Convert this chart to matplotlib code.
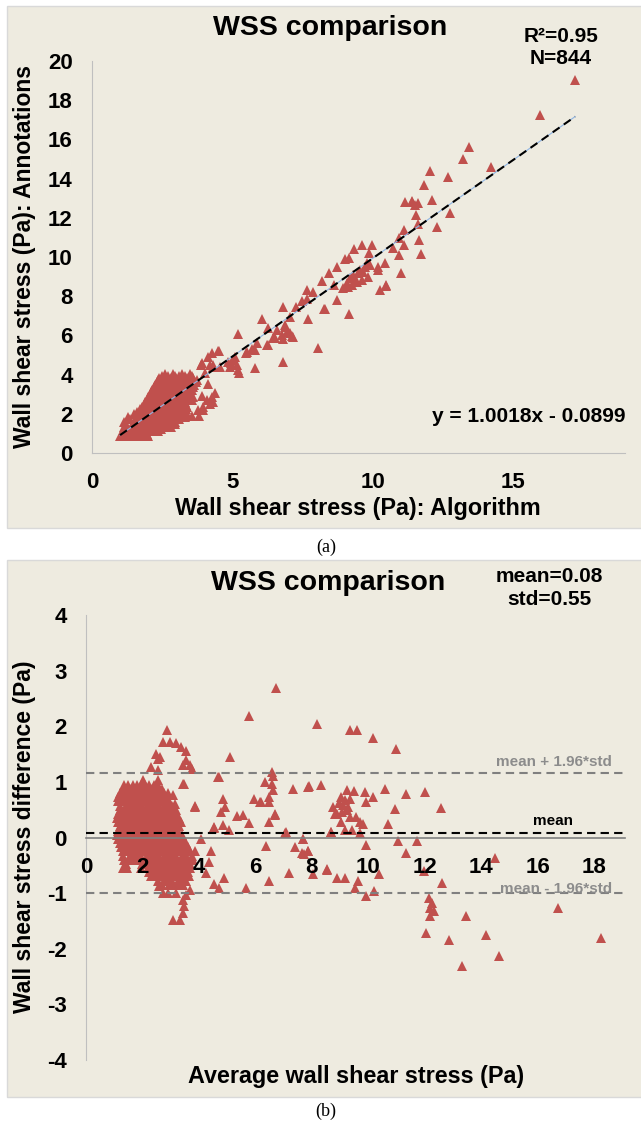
import matplotlib
matplotlib.use('Agg')
import matplotlib.pyplot as plt
from matplotlib.patches import Rectangle

plt.rcParams['font.family'] = ['Liberation Sans', 'DejaVu Sans']
plt.rcParams['font.weight'] = 'bold'
plt.rcParams['axes.unicode_minus'] = False

BG = '#EEEBE0'
RED = '#C0504D'

# ---- panel (a): algorithm vs annotations (Pa) ----
r2 = 0.95
n_points = 844
slope, intercept = 1.0018, -0.0899

annot_sparse = [
    (17.22, 19.03), (15.97, 17.24), (13.45, 15.60), (13.21, 14.98), (14.21, 14.58),
    (12.06, 14.39), (12.68, 14.10), (11.84, 13.67), (11.14, 12.82), (11.40, 12.82),
    (11.41, 12.86), (11.62, 12.76), (11.51, 12.65), (12.12, 12.91), (11.56, 12.14),
    (12.77, 12.26), (11.63, 11.68), (12.31, 11.51), (11.12, 11.38), (10.93, 10.99),
    (11.67, 10.87), (10.74, 10.48), (11.13, 10.61), (10.96, 10.10), (11.73, 10.14),
    (11.00, 9.20), (9.63, 10.60), (9.98, 10.60), (9.34, 10.39), (9.89, 10.22),
    (9.02, 9.90), (9.17, 9.93), (8.75, 9.47), (8.46, 9.17), (8.19, 8.78),
    (7.65, 8.32), (7.87, 8.23), (7.48, 7.77), (7.65, 7.84), (7.71, 6.82),
    (8.28, 7.36), (8.75, 7.81), (9.15, 7.09), (8.64, 8.57), (9.79, 9.68),
    (9.73, 9.51), (9.91, 9.59), (9.55, 9.34), (9.49, 9.17), (9.32, 9.08),
    (9.20, 8.91), (9.38, 8.83), (9.61, 8.83), (9.08, 8.66), (9.26, 8.57),
    (8.96, 8.40), (9.14, 8.49), (9.43, 8.74), (9.85, 9.00), (9.67, 9.25),
    (10.21, 9.51), (10.21, 9.34), (10.45, 9.71), (10.27, 8.32), (10.48, 8.57),
    (10.48, 8.52), (8.31, 7.33), (8.04, 5.34), (6.82, 7.47), (7.26, 7.43),
    (7.06, 6.96), (6.07, 6.82), (6.26, 6.36), (6.58, 6.28), (6.88, 6.41),
    (6.94, 6.15), (6.76, 6.02), (7.12, 5.97), (6.82, 5.80), (6.52, 5.85),
    (6.26, 5.51), (5.88, 5.60), (5.69, 5.29), (5.48, 5.09), (6.82, 4.63),
    (5.19, 6.07), (5.81, 4.32), (5.24, 4.10), (5.04, 4.74), (5.16, 4.49),
    (4.96, 4.58), (5.10, 4.91), (4.86, 4.66), (4.53, 5.22), (4.27, 5.12),
    (4.15, 4.88), (4.21, 4.49), (4.32, 4.49), (3.89, 4.49), (4.56, 4.40),
    (4.03, 4.07), (4.12, 3.52), (4.39, 3.08), (4.27, 2.87), (4.32, 2.62),
    (4.21, 2.50), (3.91, 2.91), (3.97, 2.36), (3.79, 2.19), (3.81, 1.89),
    (3.55, 1.89), (3.26, 1.86), (2.96, 1.60), (2.84, 2.23), (6.88, 6.53),
    (7.06, 6.11), (7.18, 5.94), (6.46, 5.85), (6.23, 5.51), (5.52, 5.17),
    (5.81, 5.26), (4.50, 5.22), (3.91, 4.58), (4.32, 4.37), (5.22, 4.23),
    (4.92, 4.37), (4.09, 2.70), (3.97, 2.19),
]

# dense cluster, read row by row: (annotation, [algorithm values])
annot_dense_rows = [
    (0.85, [1.0, 1.2, 1.45, 1.6, 1.85, 2.0]),
    (0.97, [1.1, 1.3, 1.55, 1.7, 1.95]),
    (1.1, [1.1, 1.3, 1.5, 1.75, 1.9, 2.1, 2.35]),
    (1.22, [1.2, 1.4, 1.6, 1.85, 2.0, 2.25, 2.45]),
    (1.35, [1.15, 1.4, 1.6, 1.8, 2.05, 2.2, 2.4, 2.6, 2.8]),
    (1.47, [1.2, 1.5, 1.7, 1.9, 2.15, 2.35, 2.55, 2.7, 2.95]),
    (1.6, [1.15, 1.5, 1.7, 1.95, 2.1, 2.3, 2.5, 2.75, 2.9]),
    (1.72, [1.35, 1.6, 1.8, 2.05, 2.2, 2.4, 2.65, 2.85, 3.1]),
    (1.85, [1.3, 1.6, 1.8, 2.0, 2.25, 2.4, 2.6, 2.8, 3.05, 3.3]),
    (1.97, [1.5, 1.7, 1.9, 2.1, 2.35, 2.5, 2.7, 2.9, 3.15, 3.4]),
    (2.1, [1.6, 1.8, 2.0, 2.2, 2.4, 2.65, 2.8, 3.0, 3.2]),
    (2.22, [1.7, 1.9, 2.1, 2.3, 2.55, 2.7, 2.9, 3.1, 3.35]),
    (2.35, [1.8, 2.0, 2.2, 2.45, 2.6, 2.8, 3.0, 3.25, 3.4]),
    (2.47, [1.85, 2.05, 2.25, 2.5, 2.7, 2.9, 3.1, 3.35]),
    (2.6, [1.9, 2.1, 2.3, 2.5, 2.7, 2.9, 3.1, 3.3]),
    (2.72, [1.95, 2.15, 2.35, 2.55, 2.8, 2.95, 3.15, 3.4, 3.55]),
    (2.85, [2.0, 2.2, 2.4, 2.6, 2.85, 3.0, 3.2, 3.4, 3.6]),
    (2.97, [2.05, 2.25, 2.45, 2.65, 2.9, 3.05, 3.25, 3.5]),
    (3.1, [2.1, 2.3, 2.5, 2.7, 2.9, 3.1, 3.3, 3.5]),
    (3.22, [2.15, 2.35, 2.55, 2.75, 2.95, 3.2, 3.4, 3.55]),
    (3.35, [2.2, 2.4, 2.6, 2.8, 3.0, 3.2, 3.45, 3.6]),
    (3.47, [2.25, 2.45, 2.65, 2.85, 3.05, 3.25, 3.5, 3.65]),
    (3.6, [2.3, 2.5, 2.7, 2.9, 3.1, 3.3, 3.5, 3.7]),
    (3.72, [2.35, 2.55, 2.75, 2.95, 3.15, 3.35, 3.55, 3.75]),
    (3.85, [2.4, 2.6, 2.8, 3.0, 3.2, 3.4, 3.6]),
    (3.95, [2.5, 2.7, 2.95, 3.1, 3.3, 3.55]),
    (4.05, [2.6, 2.9, 3.2, 3.5]),
]

# ---- panel (b): Bland-Altman, average vs difference (Pa) ----
mean_diff = 0.08
std_diff = 0.55

diff_sparse = [
    (8.18, 2.04), (9.36, 1.93), (9.60, 1.93), (10.17, 1.79), (10.99, 1.60),
    (7.88, 0.91), (8.33, 0.94), (9.24, 0.85), (9.48, 0.84), (9.03, 0.73),
    (9.18, 0.67), (9.36, 0.69), (8.98, 0.62), (8.77, 0.55), (9.12, 0.58),
    (9.30, 0.55), (8.89, 0.42), (9.07, 0.46), (9.24, 0.49), (9.34, 0.36),
    (9.04, 0.28), (9.57, 0.36), (9.72, 0.28), (9.83, 0.24), (9.18, 0.13),
    (9.42, 0.13), (8.69, 0.09), (9.72, 0.08), (9.93, 0.64), (9.87, 0.81),
    (10.17, 0.73), (10.60, 0.87), (11.35, 0.78), (12.00, 0.81), (10.96, 0.51),
    (12.59, 0.53), (10.70, 0.24), (7.68, -0.03), (9.93, -0.13), (11.04, -0.06),
    (11.73, -0.06), (11.35, -0.28), (7.88, -0.24), (7.71, -0.30), (14.50, -0.36),
    (8.53, -0.58), (8.04, -0.66), (8.89, -0.72), (9.18, -0.73), (9.63, -0.78),
    (9.52, -0.91), (10.37, -0.66), (10.19, -0.96), (9.93, -1.06), (11.96, -0.61),
    (12.61, -0.81), (12.14, -1.08), (12.26, -1.18), (12.20, -1.26), (12.32, -1.33),
    (12.20, -1.42), (12.06, -1.71), (12.85, -1.84), (13.48, -1.42), (14.18, -1.75),
    (14.62, -2.13), (16.71, -1.26), (18.25, -1.81), (13.32, -2.31),
    (6.74, 2.68), (5.77, 2.19), (2.86, 1.93), (2.72, 1.72), (2.96, 1.72),
    (3.19, 1.69), (3.37, 1.62), (3.55, 1.56), (2.48, 1.51), (2.62, 1.45),
    (2.54, 1.41), (3.55, 1.39), (3.67, 1.30), (3.76, 1.24), (3.43, 1.30),
    (2.30, 1.27), (2.54, 1.21), (5.11, 1.44), (4.73, 1.09), (3.46, 0.96),
    (6.60, 1.18), (6.62, 1.11), (6.36, 0.99), (6.60, 0.96), (6.62, 0.85),
    (6.50, 0.73), (6.48, 0.64), (7.33, 0.88), (7.90, 0.93), (5.95, 0.70),
    (6.21, 0.63), (4.87, 0.69), (4.94, 0.55), (4.79, 0.45), (3.10, 0.76),
    (3.17, 0.60), (3.88, 0.57), (5.34, 0.39), (5.56, 0.40), (5.77, 0.26),
    (6.71, 0.42), (6.48, 0.28), (4.53, 0.17), (4.85, 0.22), (5.08, 0.13),
    (7.07, 0.10), (8.69, 0.10), (4.08, -0.03), (6.38, -0.15), (7.68, -0.03),
    (7.40, -0.17), (7.66, -0.28), (7.86, -0.24), (4.43, -0.24), (4.35, -0.44),
    (4.26, -0.64), (4.90, -0.72), (4.55, -0.84), (4.73, -0.90), (5.67, -0.90),
    (6.48, -0.78), (7.19, -0.64), (8.53, -0.57), (3.07, -1.48), (3.33, -1.48),
    (3.45, -1.35), (3.49, -1.23), (3.43, -1.12), (3.55, -1.03), (3.67, -0.94),
    (2.72, -1.00), (2.60, -0.88), (2.90, -1.00), (3.19, -1.00), (2.03, 1.03),
    (2.56, 1.03), (3.45, 0.97), (3.87, 0.55), (4.69, 1.09), (4.52, 0.19),
    (6.70, 0.40), (6.17, 0.64), (7.06, 0.08), (8.81, 0.43),
]

# dense cluster, read row by row: (difference, [average values])
diff_dense_rows = [
    (0.95, [1.35, 1.5, 1.65, 1.8, 1.95, 2.1, 2.25, 2.4, 2.55]),
    (0.875, [1.3, 1.45, 1.6, 1.75, 1.9, 2.05, 2.2, 2.35, 2.5, 2.7]),
    (0.8, [1.2, 1.4, 1.55, 1.7, 1.85, 2.0, 2.15, 2.3, 2.45, 2.6, 2.75, 2.9]),
    (0.725, [1.15, 1.35, 1.5, 1.65, 1.8, 1.95, 2.1, 2.25, 2.4, 2.55, 2.7, 2.85]),
    (0.65, [1.15, 1.3, 1.45, 1.6, 1.75, 1.9, 2.05, 2.2, 2.35, 2.5, 2.65, 2.8, 2.95]),
    (0.575, [1.2, 1.4, 1.55, 1.7, 1.85, 2.0, 2.15, 2.3, 2.45, 2.6, 2.75, 2.9, 3.05]),
    (0.5, [1.2, 1.35, 1.5, 1.65, 1.8, 1.95, 2.1, 2.25, 2.4, 2.55, 2.7, 2.85, 3.0, 3.2]),
    (0.425, [1.15, 1.3, 1.4, 1.55, 1.7, 1.85, 2.0, 2.15, 2.3, 2.45, 2.6, 2.75, 2.9, 3.05, 3.2]),
    (0.35, [1.1, 1.3, 1.45, 1.6, 1.75, 1.9, 2.05, 2.2, 2.35, 2.5, 2.65, 2.8, 2.95, 3.1, 3.3]),
    (0.275, [1.15, 1.25, 1.4, 1.55, 1.7, 1.85, 2.0, 2.15, 2.3, 2.45, 2.6, 2.75, 2.9, 3.05, 3.2, 3.35]),
    (0.2, [1.2, 1.35, 1.5, 1.65, 1.8, 1.95, 2.1, 2.25, 2.4, 2.55, 2.7, 2.85, 3.0, 3.15, 3.3]),
    (0.125, [1.15, 1.3, 1.45, 1.6, 1.75, 1.9, 2.05, 2.2, 2.35, 2.5, 2.65, 2.8, 2.95, 3.1, 3.25]),
    (0.05, [1.1, 1.25, 1.4, 1.55, 1.7, 1.85, 2.0, 2.15, 2.3, 2.45, 2.6, 2.75, 2.9, 3.05, 3.2, 3.4]),
    (-0.025, [1.15, 1.3, 1.45, 1.6, 1.75, 1.9, 2.05, 2.2, 2.35, 2.5, 2.65, 2.8, 2.95, 3.1, 3.3, 3.45]),
    (-0.1, [1.2, 1.35, 1.5, 1.65, 1.8, 1.95, 2.1, 2.25, 2.4, 2.55, 2.7, 2.85, 3.0, 3.15, 3.35, 3.55]),
    (-0.175, [1.25, 1.4, 1.55, 1.7, 1.85, 2.0, 2.15, 2.3, 2.45, 2.6, 2.75, 2.9, 3.05, 3.25, 3.45, 3.6]),
    (-0.25, [1.3, 1.45, 1.6, 1.75, 1.9, 2.05, 2.2, 2.35, 2.5, 2.65, 2.8, 2.95, 3.1, 3.3, 3.5, 3.7, 3.85]),
    (-0.325, [1.3, 1.55, 1.65, 1.8, 1.95, 2.15, 2.3, 2.45, 2.6, 2.75, 2.9, 3.05, 3.2, 3.4, 3.55, 3.75]),
    (-0.4, [1.35, 1.5, 1.7, 1.9, 2.1, 2.3, 2.45, 2.6, 2.75, 2.9, 3.05, 3.2, 3.4, 3.6, 3.8]),
    (-0.475, [1.4, 2.0, 2.2, 2.35, 2.5, 2.7, 2.85, 3.0, 3.2, 3.35, 3.55, 3.7]),
    (-0.55, [1.3, 1.45, 1.95, 2.2, 2.4, 2.6, 2.8, 2.95, 3.1, 3.3, 3.5, 3.7]),
    (-0.625, [2.25, 2.45, 2.6, 2.75, 2.9, 3.1, 3.25, 3.45, 3.6]),
    (-0.7, [2.3, 2.5, 2.65, 2.8, 3.0, 3.2, 3.35, 3.5, 3.65]),
    (-0.775, [2.55, 2.75, 2.9, 3.05, 3.25, 3.4, 3.55]),
    (-0.85, [2.7, 2.95, 3.1, 3.3, 3.45]),
]


def expand(sparse, rows):
    xs = [p[0] for p in sparse]
    ys = [p[1] for p in sparse]
    for yv, row in rows:
        xs += row
        ys += [yv] * len(row)
    return xs, ys


a_x, a_y = expand(annot_sparse, annot_dense_rows)
b_x, b_y = expand(diff_sparse, diff_dense_rows)

W, H = 641, 1125
fig = plt.figure(figsize=(W / 100, H / 100), dpi=100)
fig.patch.set_facecolor('white')


def fx(px):
    return px / W


def fy(py):
    return 1 - py / H


for top, bot in [(6, 528), (560, 1097)]:
    fig.add_artist(Rectangle((fx(7), fy(bot)), fx(650) - fx(7), fy(top) - fy(bot),
                             transform=fig.transFigure, facecolor=BG,
                             edgecolor='#D9D9D9', lw=1, zorder=0))


def style_axis(ax):
    ax.set_facecolor('none')
    ax.spines['top'].set_visible(False)
    ax.spines['right'].set_visible(False)
    ax.spines['left'].set_color('#BFBFBF')
    ax.spines['left'].set_linewidth(0.8)
    ax.spines['bottom'].set_color('#BFBFBF')
    ax.spines['bottom'].set_linewidth(0.8)
    ax.tick_params(length=0, labelsize=16, pad=14)
    ax.set_axisbelow(False)


# ---------- (a) ----------
ax1 = fig.add_axes([fx(92), fy(453), fx(625) - fx(92), fy(61) - fy(453)])
style_axis(ax1)
ax1.plot(a_x, a_y, '^', ms=7, color=RED, mew=0, zorder=2)
tx = [min(a_x), max(a_x)]
ty = [slope * v + intercept for v in tx]
ax1.plot(tx, ty, color='#8EB4E3', lw=0.8, zorder=3)
ax1.plot(tx, ty, color='black', lw=1.5, ls=(0, (4, 2.5)), zorder=3)
ax1.set_xlim(0, 19)
ax1.set_ylim(0, 20)
ax1.set_xticks([0, 5, 10, 15])
ax1.set_yticks(range(0, 21, 2))

fig.text(fx(330), fy(28), 'WSS comparison', ha='center', va='center', fontsize=20.5)
fig.text(fx(561), fy(36), 'R²=0.95', ha='center', va='center', fontsize=15)
fig.text(fx(561), fy(59), f'N={n_points}', ha='center', va='center', fontsize=15)
fig.text(fx(625), fy(417), f'y = {slope}x - {abs(intercept)}', ha='right', va='center', fontsize=15)
fig.text(fx(358), fy(509), 'Wall shear stress (Pa): Algorithm', ha='center', va='center', fontsize=16.8)
fig.text(fx(25), fy(257), 'Wall shear stress (Pa): Annotations', ha='center', va='center',
         rotation=90, fontsize=16.5)
fig.text(fx(326), fy(547), '(a)', ha='center', va='center', fontsize=13,
         family='Liberation Serif', weight='normal')

# ---------- (b) ----------
ax2 = fig.add_axes([fx(86), fy(1060), fx(625) - fx(86), fy(615) - fy(1060)])
style_axis(ax2)
ax2.spines['bottom'].set_position(('data', 0))
ax2.spines['bottom'].set_color('#7F7F7F')
ax2.spines['bottom'].set_linewidth(1.2)
ax2.plot(b_x, b_y, '^', ms=7, color=RED, mew=0, zorder=2)
upper = mean_diff + 1.96 * std_diff
lower = mean_diff - 1.96 * std_diff
ax2.axhline(upper, color='#808080', lw=1.5, ls=(0, (4, 2.5)), zorder=3)
ax2.axhline(lower, color='#808080', lw=1.5, ls=(0, (4, 2.5)), zorder=3)
ax2.axhline(mean_diff, color='black', lw=1.5, ls=(0, (4, 2.5)), zorder=3)
ax2.set_xlim(0, 19.1)
ax2.set_ylim(-4, 4)
ax2.set_xticks(range(0, 19, 2))
ax2.set_yticks(range(-4, 5))
ax2.text(18.65, upper + 0.07, 'mean + 1.96*std', ha='right', va='bottom', fontsize=11, color='#8C8C8C')
ax2.text(16.56, mean_diff + 0.09, 'mean', ha='center', va='bottom', fontsize=11, color='black')
ax2.text(18.65, lower, 'mean - 1.96*std', ha='right', va='baseline', fontsize=11, color='#8C8C8C')

fig.text(fx(328), fy(583), 'WSS comparison', ha='center', va='center', fontsize=20.5)
fig.text(fx(549), fy(576), f'mean={mean_diff:.2f}', ha='center', va='center', fontsize=15)
fig.text(fx(549), fy(599), f'std={std_diff:.2f}', ha='center', va='center', fontsize=15)
fig.text(fx(356), fy(1077), 'Average wall shear stress (Pa)', ha='center', va='center', fontsize=16.8)
fig.text(fx(25), fy(837), 'Wall shear stress difference (Pa)', ha='center', va='center',
         rotation=90, fontsize=16.5)
fig.text(fx(326), fy(1111), '(b)', ha='center', va='center', fontsize=13,
         family='Liberation Serif', weight='normal')

fig.savefig('out.png', dpi=100, facecolor='white')
